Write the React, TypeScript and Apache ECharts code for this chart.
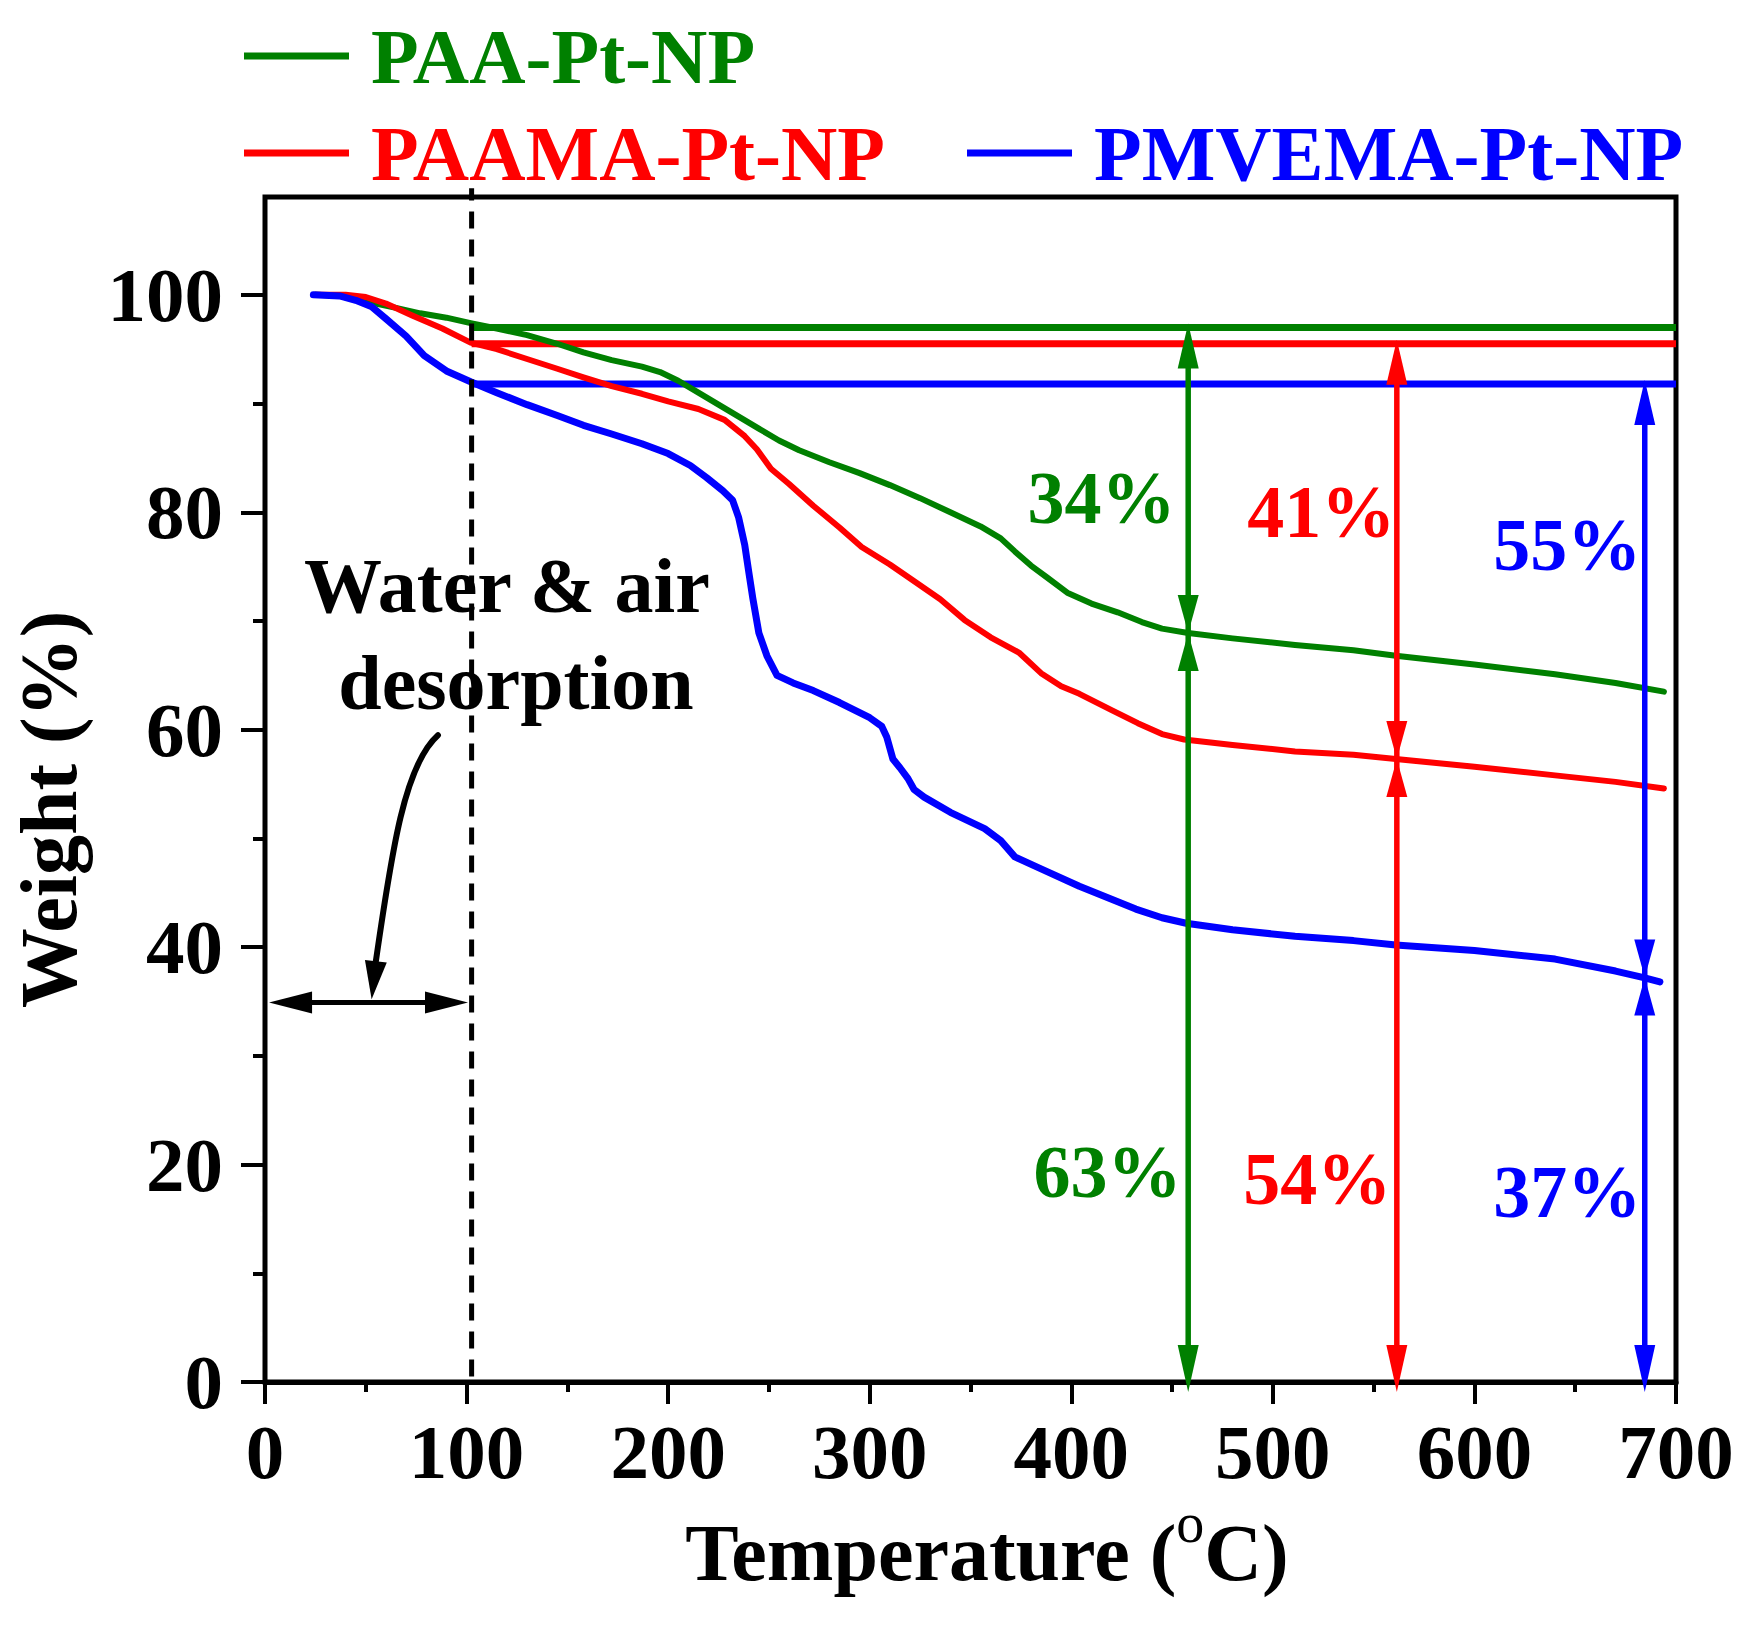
import React, { useEffect, useRef } from "react";
import * as echarts from "echarts";

const FONT = "'Liberation Serif', 'Times New Roman', serif";

const seriesNames = ["PAA-Pt-NP", "PAAMA-Pt-NP", "PMVEMA-Pt-NP"];
const seriesColors = ["#008000", "#ff0000", "#0000ff"];
const seriesWidths = [6, 6, 7];

const xTickValues = [0, 100, 200, 300, 400, 500, 600, 700];
const yTickValues = [0, 20, 40, 60, 80, 100];

const paaTemp = [25, 35, 45, 55, 65, 77, 90, 102, 115, 130, 145, 158, 172, 187, 196, 205, 215, 225, 235, 245, 255, 265, 280, 295, 310, 325, 340, 355, 365, 372, 380, 388, 398, 410, 423, 435, 445, 458, 480, 511, 540, 561, 600, 640, 670, 694];
const paaWeight = [100, 99.95, 99.7, 99.2, 98.8, 98.3, 97.9, 97.4, 96.9, 96.3, 95.5, 94.7, 94.0, 93.4, 92.9, 92.1, 91.0, 89.9, 88.8, 87.7, 86.6, 85.7, 84.6, 83.6, 82.5, 81.3, 80.0, 78.7, 77.6, 76.4, 75.1, 74.0, 72.6, 71.6, 70.8, 69.9, 69.3, 68.9, 68.4, 67.8, 67.3, 66.8, 66.0, 65.1, 64.3, 63.5];

const paamaTemp = [25, 40, 50, 60, 73, 88, 102, 115, 130, 145, 158, 172, 187, 200, 215, 228, 238, 244, 251, 260, 272, 285, 296, 310, 321, 335, 347, 360, 374, 385, 395, 404, 420, 433, 445, 456, 480, 511, 540, 561, 600, 640, 670, 694];
const paamaWeight = [100, 100, 99.8, 99.2, 98.1, 96.9, 95.6, 95.0, 94.1, 93.2, 92.4, 91.6, 90.9, 90.2, 89.5, 88.5, 87.0, 85.8, 84.0, 82.6, 80.6, 78.6, 76.8, 75.2, 73.8, 72.0, 70.1, 68.5, 67.1, 65.2, 64.0, 63.3, 61.8, 60.6, 59.6, 59.1, 58.6, 58.0, 57.7, 57.3, 56.6, 55.8, 55.2, 54.6];

const pmvemaTemp = [24, 37, 45, 53, 60, 70, 79, 90, 102, 115, 130, 145, 158, 172, 187, 200, 211, 219, 227, 232, 235, 238, 240, 242, 245, 249, 254, 262, 272, 285, 300, 306, 308.5, 311.5, 315, 319, 322, 327, 340, 357, 365, 372, 385, 404, 420, 432, 445, 457, 480, 511, 540, 561, 600, 640, 670, 684, 692];
const pmvemaWeight = [100, 99.9, 99.5, 98.9, 97.8, 96.2, 94.4, 93.0, 92.0, 91.0, 89.9, 88.9, 88.0, 87.2, 86.3, 85.4, 84.3, 83.2, 82.0, 81.1, 79.5, 77.0, 74.5, 72.1, 68.9, 66.8, 65.0, 64.3, 63.6, 62.5, 61.1, 60.3, 59.3, 57.3, 56.5, 55.5, 54.5, 53.8, 52.4, 50.9, 49.8, 48.3, 47.2, 45.6, 44.4, 43.5, 42.7, 42.2, 41.6, 41.0, 40.6, 40.2, 39.7, 38.9, 37.8, 37.2, 36.8];

// horizontal plateau lines (weight after water desorption)
const plateauStart = 102.5;
const plateauEnd = 700;
const plateauWeight = [97.0, 95.5, 91.8];

// dashed separator at ~100 °C
const dashTemp = 102.5;
const dashRange = [0.5, 109.8];

// vertical measurement arrows
const arrowTemp = [458, 561.5, 684.5];
const arrowResidue = [68.9, 57.3, 37.2];

// percentage labels
const labelText = ["34%", "41%", "55%", "63%", "54%", "37%"];
const labelTemp = [415, 524, 646, 418, 522, 646];
const labelWeight = [81.3, 80.0, 77.0, 19.3, 18.7, 17.5];
const labelColor = ["#008000", "#ff0000", "#0000ff", "#008000", "#ff0000", "#0000ff"];

// water & air desorption note
const noteText = ["Water & air", "desorption"];
const noteTemp = [120, 124.5];
const noteWeight = [73.25, 64.3];
const spanTemp = [2, 100.7];
const spanWeight = 34.9;
const curveTemp = [85.8, 69.4, 63.0, 55.0, 52.9];
const curveWeight = [59.5, 56.8, 49.0, 38.7, 35.2];

const zip = (a: number[], b: number[]) => a.map((v, i) => [v, b[i]]);

export default function App() {
  const ref = useRef<HTMLDivElement>(null);

  useEffect(() => {
    document.body.style.margin = "0";
    const chart = echarts.init(ref.current!, null, { renderer: "svg" });

    const bold = { fontFamily: FONT, fontWeight: "bold" as const, color: "#000" };

    const curveData = [zip(paaTemp, paaWeight), zip(paamaTemp, paamaWeight), zip(pmvemaTemp, pmvemaWeight)];

    const mainSeries = curveData.map((d, i) => ({
      name: seriesNames[i],
      type: "line",
      data: d,
      showSymbol: false,
      symbol: "none",
      smooth: false,
      lineStyle: { color: seriesColors[i], width: seriesWidths[i], cap: "round", join: "round" },
      itemStyle: { color: seriesColors[i] },
      z: 3,
      silent: true,
    }));

    const plateauSeries = plateauWeight.map((w, i) => ({
      name: seriesNames[i] + " plateau",
      type: "line",
      data: [[plateauStart, w], [plateauEnd, w]],
      showSymbol: false,
      symbol: "none",
      lineStyle: { color: seriesColors[i], width: 7 },
      itemStyle: { color: seriesColors[i] },
      z: 3,
      silent: true,
    }));

    const tri = (tx: number, ty: number, bx: number, by: number, hw: number, fill: string) => {
      const dx = tx - bx;
      const dy = ty - by;
      const len = Math.sqrt(dx * dx + dy * dy) || 1;
      const nx = -dy / len;
      const ny = dx / len;
      return {
        type: "polygon",
        shape: { points: [[tx, ty], [bx + nx * hw, by + ny * hw], [bx - nx * hw, by - ny * hw]] },
        style: { fill },
      };
    };

    const arrowSeries = {
      name: "arrows",
      type: "custom",
      coordinateSystem: "cartesian2d",
      clip: false,
      silent: true,
      z: 6,
      data: zip(arrowTemp, arrowResidue),
      renderItem: (params: any, api: any) => {
        const i = params.dataIndex;
        const c = seriesColors[i];
        const x = api.coord([arrowTemp[i], 0])[0];
        const yTop = api.coord([arrowTemp[i], plateauWeight[i]])[1] - 4;
        const yMid = api.coord([arrowTemp[i], arrowResidue[i]])[1];
        const yBot = api.coord([arrowTemp[i], 0])[1] + 10;
        const hw = 10.5;
        return {
          type: "group",
          children: [
            { type: "line", shape: { x1: x, y1: yTop + 40, x2: x, y2: yBot - 40 }, style: { stroke: c, lineWidth: 5.5 } },
            tri(x, yTop, x, yTop + 45, hw, c),
            tri(x, yMid, x, yMid - 38, hw, c),
            tri(x, yMid, x, yMid + 38, hw, c),
            tri(x, yBot, x, yBot - 47, hw, c),
          ],
        };
      },
    };

    const noteSeries = {
      name: "desorption note",
      type: "custom",
      coordinateSystem: "cartesian2d",
      clip: false,
      silent: true,
      z: 6,
      data: [[spanTemp[0], spanWeight]],
      renderItem: (params: any, api: any) => {
        const l = api.coord([spanTemp[0], spanWeight]);
        const r = api.coord([spanTemp[1], spanWeight]);
        const p = curveTemp.map((t, k) => api.coord([t, curveWeight[k]]));
        const children: any[] = [
          { type: "line", shape: { x1: l[0] + 30, y1: l[1], x2: r[0] - 30, y2: r[1] }, style: { stroke: "#000", lineWidth: 5 } },
          tri(l[0], l[1], l[0] + 43, l[1], 11, "#000"),
          tri(r[0], r[1], r[0] - 43, r[1], 11, "#000"),
          {
            type: "bezierCurve",
            shape: { x1: p[0][0], y1: p[0][1], cpx1: p[1][0], cpy1: p[1][1], cpx2: p[2][0], cpy2: p[2][1], x2: p[3][0], y2: p[3][1] },
            style: { stroke: "#000", lineWidth: 6, fill: null, lineCap: "round" },
          },
          tri(p[4][0], p[4][1], p[3][0], p[3][1], 11, "#000"),
        ];
        noteText.forEach((t, k) => {
          const q = api.coord([noteTemp[k], noteWeight[k]]);
          children.push({
            type: "text",
            x: q[0],
            y: q[1],
            style: { text: t, fill: "#000", fontSize: 78, fontWeight: "bold", fontFamily: FONT, align: "center", verticalAlign: "middle" },
          });
        });
        return { type: "group", children };
      },
    };

    const labelSeries = {
      name: "percent labels",
      type: "custom",
      coordinateSystem: "cartesian2d",
      clip: false,
      silent: true,
      z: 7,
      data: zip(labelTemp, labelWeight),
      renderItem: (params: any, api: any) => {
        const i = params.dataIndex;
        const q = api.coord([labelTemp[i], labelWeight[i]]);
        return {
          type: "text",
          x: q[0],
          y: q[1],
          style: { text: labelText[i], fill: labelColor[i], fontSize: 74, fontWeight: "bold", fontFamily: FONT, align: "center", verticalAlign: "middle" },
        };
      },
    };

    const dashSeries = {
      name: "100 °C",
      type: "line",
      data: [[dashTemp, dashRange[0]], [dashTemp, dashRange[1]]],
      showSymbol: false,
      symbol: "none",
      clip: false,
      silent: true,
      lineStyle: { color: "#000", width: 5, type: [17, 11] },
      z: 4,
    };

    const legendText = { fontSize: 78, fontWeight: "bold", fontFamily: FONT, padding: [0, 0, 20, 17] };

    const option: any = {
      animation: false,
      backgroundColor: "#fff",
      legend: [
        {
          data: [{ name: seriesNames[0], textStyle: { color: seriesColors[0] } }],
          left: 244,
          top: 17,
          padding: 0,
          icon: "rect",
          itemWidth: 105,
          itemHeight: 7,
          selectedMode: false,
          textStyle: legendText,
        },
        {
          data: [
            { name: seriesNames[1], textStyle: { color: seriesColors[1] } },
            { name: seriesNames[2], textStyle: { color: seriesColors[2] } },
          ],
          left: 244,
          top: 114,
          padding: 0,
          icon: "rect",
          itemWidth: 105,
          itemHeight: 7,
          itemGap: 82,
          selectedMode: false,
          textStyle: legendText,
        },
      ],
      grid: {
        left: 265,
        top: 197,
        width: 1411,
        height: 1185,
        show: true,
        borderColor: "#000",
        borderWidth: 5,
        backgroundColor: "transparent",
        containLabel: false,
        outerBoundsMode: "none",
      },
      xAxis: {
        type: "value",
        min: 0,
        max: 700,
        interval: 100,
        name: "Temperature ({sup|o}C)",
        nameLocation: "middle",
        nameGap: 127,
        nameTextStyle: {
          ...bold,
          fontSize: 80,
          lineHeight: 80,
          padding: [0, 0, 0, 33],
          rich: {
            sup: { fontSize: 56, fontWeight: "normal", fontFamily: FONT, color: "#000", lineHeight: 40, padding: [0, 0, 60, 0], verticalAlign: "middle" },
          },
        },
        axisLine: { show: true, onZero: false, lineStyle: { color: "#000", width: 5 } },
        axisTick: { show: true, inside: false, length: 22, lineStyle: { color: "#000", width: 4 } },
        minorTick: { show: true, splitNumber: 2, length: 10, lineStyle: { color: "#000", width: 4 } },
        splitLine: { show: false },
        minorSplitLine: { show: false },
        axisLabel: { ...bold, fontSize: 77, margin: 31, lineHeight: 77 },
      },
      yAxis: {
        type: "value",
        min: 0,
        max: 109,
        interval: 20,
        name: "Weight (%)",
        nameLocation: "middle",
        nameGap: 176,
        nameTextStyle: { ...bold, fontSize: 80, lineHeight: 80, padding: [0, 40, 0, 0] },
        axisLine: { show: true, onZero: false, lineStyle: { color: "#000", width: 4 } },
        axisTick: { show: true, inside: false, length: 24, customValues: yTickValues, lineStyle: { color: "#000", width: 4 } },
        minorTick: { show: true, splitNumber: 2, length: 12, lineStyle: { color: "#000", width: 4 } },
        splitLine: { show: false },
        minorSplitLine: { show: false },
        axisLabel: { ...bold, fontSize: 77, margin: 42, lineHeight: 77, padding: [0, 0, 18, 0], customValues: yTickValues },
      },
      series: [...plateauSeries, ...mainSeries, dashSeries, arrowSeries, noteSeries, labelSeries],
    };

    chart.setOption(option);
    return () => chart.dispose();
  }, []);

  return <div ref={ref} style={{ position: "absolute", left: 0, top: 0, width: 1745, height: 1630 }} />;
}
